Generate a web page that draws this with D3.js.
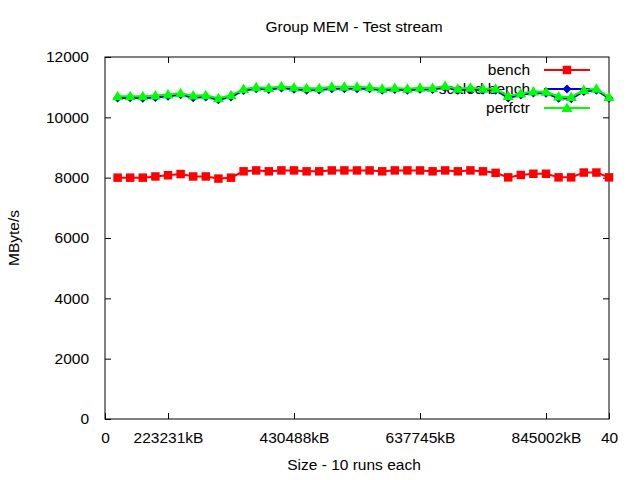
<!DOCTYPE html>
<html>
<head>
<meta charset="utf-8">
<script src="https://cdn.jsdelivr.net/npm/d3@7"></script>
<style>
  html, body { margin: 0; padding: 0; background: #fff; }
  svg { display: block; }
  text { font-family: "Liberation Sans", Arial, sans-serif; font-size: 15.5px; fill: #000; }
</style>
</head>
<body>
<svg id="chart" width="640" height="480"></svg>
<script>
// ---- data ----
const runIndex = d3.range(1, 41);
const bench = [8000,8000,8000,8040,8080,8120,8040,8040,7970,8000,
               8210,8240,8210,8240,8240,8210,8210,8240,8240,8240,
               8240,8210,8240,8240,8240,8210,8240,8210,8240,8210,
               8160,8010,8090,8130,8130,8010,8010,8170,8170,8010];
const scaledBench = [10640,10650,10630,10660,10700,10750,10650,10670,10580,10670,
                     10890,10950,10920,10970,10930,10900,10910,10950,10950,10950,
                     10950,10900,10920,10900,10930,10920,10990,10900,10930,10900,
                     10900,10640,10740,10810,10800,10630,10620,10860,10900,10630];
const perfctr = [10700,10700,10700,10720,10760,10800,10720,10730,10630,10730,
                 10940,11000,10970,11030,10990,10960,10960,11010,11010,11010,
                 11000,10950,10970,10950,10980,10970,11040,10950,10980,10950,
                 10950,10710,10790,10860,10850,10690,10670,10910,10950,10670];
const xTickValues = [0, 5, 15, 25, 35, 40];
const xTickLabels = ["0", "223231kB", "430488kB", "637745kB", "845002kB", "40"];
const yTickValues = [0, 2000, 4000, 6000, 8000, 10000, 12000];
const seriesNames = ["bench", "scaled bench", "perfctr"];
const seriesColors = ["#ff0000", "#0000dd", "#00ff00"];
const seriesMarkers = ["square", "diamond", "triangle"];
const titleText = "Group MEM - Test stream";
const xLabelText = "Size - 10 runs each";
const yLabelText = "MByte/s";

// ---- layout ----
const L = 105, R = 609, T = 57, B = 419;
const FS = "15.5px";
const svg = d3.select("#chart");
const x = d3.scaleLinear().domain([0, 40]).range([L, R]);
const y = d3.scaleLinear().domain([0, 12000]).range([B, T]);
const tickLen = 6;

// frame
svg.append("rect").attr("x", L).attr("y", T).attr("width", R - L).attr("height", B - T)
  .attr("fill", "none").attr("stroke", "#000").attr("stroke-width", 1);

// y axis (ticks inside, mirrored)
const yAxis = d3.axisLeft(y).tickValues(yTickValues).tickSizeInner(-tickLen).tickSizeOuter(0).tickPadding(tickLen + 10).tickFormat(d3.format("d"));
const gy = svg.append("g").attr("transform", `translate(${L},0)`).call(yAxis);
gy.select(".domain").remove();
gy.selectAll("text").style("font-family", "Liberation Sans, Arial, sans-serif").style("font-size", FS).attr("fill", "#000");
const yAxisR = d3.axisRight(y).tickValues(yTickValues.slice(1, -1)).tickSizeInner(-tickLen).tickSizeOuter(0).tickFormat("");
const gyr = svg.append("g").attr("transform", `translate(${R},0)`).call(yAxisR);
gyr.select(".domain").remove();

// x axis
const xAxis = d3.axisBottom(x).tickValues(xTickValues).tickSizeInner(-tickLen).tickSizeOuter(0).tickPadding(tickLen + 7)
  .tickFormat((d, i) => xTickLabels[i]);
const gx = svg.append("g").attr("transform", `translate(0,${B})`).call(xAxis);
gx.select(".domain").remove();
gx.selectAll("text").style("font-family", "Liberation Sans, Arial, sans-serif").style("font-size", FS).attr("fill", "#000");
const xAxisT = d3.axisTop(x).tickValues(xTickValues.slice(1, -1)).tickSizeInner(-tickLen).tickSizeOuter(0).tickFormat("");
const gxt = svg.append("g").attr("transform", `translate(0,${T})`).call(xAxisT);
gxt.select(".domain").remove();
svg.selectAll(".tick line").attr("stroke", "#000");

// titles
svg.append("text").attr("x", 354).attr("y", 32).attr("text-anchor", "middle").text(titleText);
svg.append("text").attr("x", 354).attr("y", 470).attr("text-anchor", "middle").text(xLabelText);
svg.append("text").attr("transform", "translate(19,238) rotate(-90)").attr("text-anchor", "middle").text(yLabelText);

// marker symbol
function marker(sel, type, color) {
  if (type === "square") {
    sel.append("path").attr("d", d3.symbol(d3.symbolSquare, 72)()).attr("fill", color);
  } else if (type === "diamond") {
    sel.append("path").attr("d", "M0,-4.5L4.5,0L0,4.5L-4.5,0Z").attr("fill", color);
  } else {
    sel.append("path").attr("d", "M0,-5.5L5.5,4L-5.5,4Z").attr("fill", color);
  }
}

const allSeries = [bench, scaledBench, perfctr];
const keyRowsY = [70, 89, 108];
const line = d3.line().x((d, i) => x(runIndex[i])).y(d => y(d));

allSeries.forEach((vals, s) => {
  const color = seriesColors[s];
  // key entry drawn before its series (gnuplot order)
  const ky = keyRowsY[s];
  svg.append("text").attr("x", 530).attr("y", ky + 5).attr("text-anchor", "end").text(seriesNames[s]);
  svg.append("line").attr("x1", 544).attr("x2", 590).attr("y1", ky).attr("y2", ky)
    .attr("stroke", color).attr("stroke-width", 2);
  marker(svg.append("g").attr("transform", `translate(567,${ky})`), seriesMarkers[s], color);
  // series
  svg.append("path").datum(vals).attr("d", line).attr("fill", "none")
    .attr("stroke", color).attr("stroke-width", 2);
  svg.append("g").selectAll("g").data(vals).join("g")
    .attr("transform", (d, i) => `translate(${x(runIndex[i])},${y(d)})`)
    .each(function() { marker(d3.select(this), seriesMarkers[s], color); });
});
</script>
</body>
</html>
